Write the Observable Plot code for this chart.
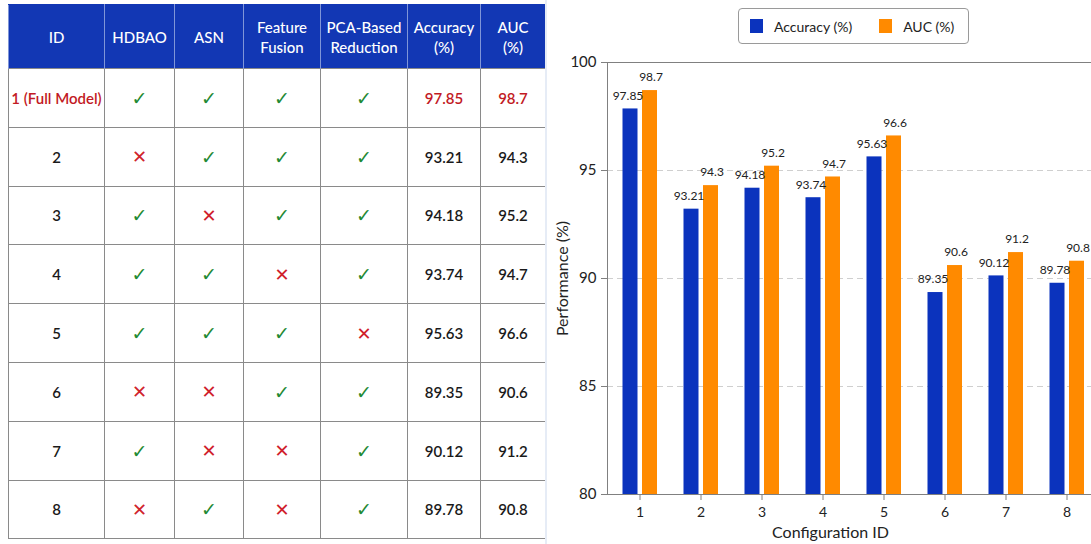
<!DOCTYPE html>
<html>
<head>
<meta charset="utf-8">
<script src="https://cdn.jsdelivr.net/npm/d3@7"></script>
<script src="https://cdn.jsdelivr.net/npm/@observablehq/plot@0.6"></script>
<style>
  html, body { margin: 0; padding: 0; background: #fff; }
  body { width: 1091px; height: 544px; overflow: hidden; position: relative; font-family: Lato, "Open Sans", sans-serif; }
  #tbl { position: absolute; left: 8px; top: 4px; border-collapse: collapse; table-layout: fixed; }
  #tbl th { background: #1237b4; color: #fff; font-weight: 500; font-size: 15px; line-height: 20px; height: 63px; text-align: center; padding: 0 2px; border-left: 1px solid #7f95d8; border-right: 1px solid #7f95d8; border-top: 1px solid #1237b4; }
  #tbl td { border: 1px solid #8a8a8a; height: 57.8px; text-align: center; font-size: 15px; font-weight: 600; color: #1a1a1a; padding: 0; }
  #tbl td.red { color: #c21a24; }
  #tbl td .ok { color: #1f8a33; font-size: 19px; font-weight: 400; font-family: "DejaVu Sans", sans-serif; }
  #tbl td .no { color: #d0222b; font-size: 18px; font-weight: 400; font-family: "DejaVu Sans", sans-serif; }
  #chart { position: absolute; left: 545px; top: 0; width: 560px; height: 544px; }
  #chart svg { max-width: none; }
  #legend { position: absolute; left: 738px; top: 8px; width: 229px; height: 34px; border: 1px solid #9a9a9a; border-radius: 4px; display: flex; align-items: center; font-size: 14px; color: #222; background: #fff; }
  #legend .sw { display: inline-block; width: 13px; height: 14px; margin-right: 11px; }
  #legend .it { display: flex; align-items: center; }
  #edge { position: absolute; left: 545px; top: 0; width: 2px; height: 544px; background: #e6ecf6; }
</style>
</head>
<body>
<table id="tbl"></table>
<div id="edge"></div>
<div id="chart"></div>
<div id="legend"></div>
<script>
// ---- data ----
const tableIds = ["1 (Full Model)", "2", "3", "4", "5", "6", "7", "8"];
const configIds = ["1", "2", "3", "4", "5", "6", "7", "8"];
const hdbao  = [1, 0, 1, 1, 1, 0, 1, 0];
const asn    = [1, 1, 0, 1, 1, 0, 0, 1];
const fusion = [1, 1, 1, 0, 1, 1, 0, 0];
const pca    = [1, 1, 1, 1, 0, 1, 1, 1];
const accuracy = [97.85, 93.21, 94.18, 93.74, 95.63, 89.35, 90.12, 89.78];
const auc      = [98.7, 94.3, 95.2, 94.7, 96.6, 90.6, 91.2, 90.8];
const headers = ["ID", "HDBAO", "ASN", "Feature<br>Fusion", "PCA-Based<br>Reduction", "Accuracy<br>(%)", "AUC<br>(%)"];
const colWidths = [96, 70, 69, 77, 87, 73, 65];
const seriesNames = ["Accuracy (%)", "AUC (%)"];
const seriesColors = ["#0b33bd", "#ff8a00"];
const yTicks = [80, 85, 90, 95, 100];
const gridTicks = [85, 90, 95];

// ---- table ----
const tbl = document.getElementById("tbl");
let html = "<colgroup>" + colWidths.map(w => `<col style="width:${w}px">`).join("") + "</colgroup>";
html += "<tr>" + headers.map(h => `<th>${h}</th>`).join("") + "</tr>";
const mark = v => v ? '<span class="ok">✓</span>' : '<span class="no">✕</span>';
tableIds.forEach((id, i) => {
  const red = i === 0 ? ' class="red"' : "";
  html += `<tr><td${red}>${id}</td><td>${mark(hdbao[i])}</td><td>${mark(asn[i])}</td><td>${mark(fusion[i])}</td><td>${mark(pca[i])}</td><td${red}>${accuracy[i].toFixed(2)}</td><td${red}>${auc[i].toFixed(1)}</td></tr>`;
});
tbl.innerHTML = html;

// ---- legend ----
const lg = document.getElementById("legend");
lg.innerHTML = seriesNames.map((n, i) =>
  `<div class="it" style="margin-left:${i === 0 ? 11 : 27}px"><span class="sw" style="background:${seriesColors[i]}"></span>${n}</div>`
).join("");

// ---- chart ----
const rows = configIds.map((id, i) => ({id, acc: accuracy[i], auc: auc[i]}));
const chart = Plot.plot({
  width: 560,
  height: 544,
  marginLeft: 62,
  marginRight: 6.6,
  marginTop: 62,
  marginBottom: 50,
  style: {fontFamily: "Lato, 'Open Sans', sans-serif", fontSize: "14px", color: "#222", background: "transparent", maxWidth: "none"},
  x: {type: "band", domain: configIds, padding: 0, label: null},
  y: {domain: [80, 100], label: null},
  marks: [
    Plot.ruleY(gridTicks, {stroke: "#cfcfcf", strokeDasharray: "6,4"}),
    Plot.barY(rows, {x: "id", y: "acc", fill: seriesColors[0], insetLeft: 13.5, insetRight: 32.5, clip: true}),
    Plot.barY(rows, {x: "id", y: "auc", fill: seriesColors[1], insetLeft: 33, insetRight: 13, clip: true}),
    Plot.text(rows, {x: "id", y: "acc", text: d => d.acc.toFixed(2), dx: -12, dy: -13, fontSize: 12, fill: "#222"}),
    Plot.text(rows, {x: "id", y: "auc", text: d => d.auc.toFixed(1), dx: 11, dy: -13, fontSize: 12, fill: "#222"}),
    Plot.frame({stroke: "#808080"}),
    Plot.axisY({ticks: yTicks, tickSize: 6, tickPadding: 5, stroke: "#808080", fontSize: 15, label: null}),
    Plot.axisX({tickSize: 6, tickPadding: 7, stroke: "#808080", fontSize: 14, label: null}),
    Plot.text(["Performance (%)"], {text: d => d, frameAnchor: "left", textAnchor: "middle", rotate: -90, dx: -45, fontSize: 16, fill: "#222"}),
    Plot.text(["Configuration ID"], {text: d => d, frameAnchor: "bottom", lineAnchor: "middle", dx: -22.7, dy: 38, fontSize: 16, fill: "#222"})
  ]
});
document.getElementById("chart").appendChild(chart);
</script>
</body>
</html>
